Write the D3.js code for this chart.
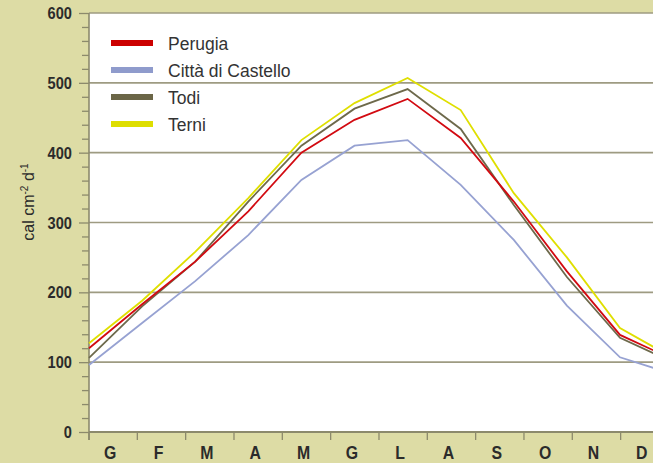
<!DOCTYPE html>
<html>
<head>
<meta charset="utf-8">
<script src="https://cdn.jsdelivr.net/npm/d3@7"></script>
<style>
  body { margin: 0; background: #dddca5; }
  svg { display: block; }
  .cond { font-family: "Liberation Sans", Arial, sans-serif; }
</style>
</head>
<body>
<div class="chart"></div>
<script>
// mesi (iniziali italiane)
var months = ["G", "F", "M", "A", "M", "G", "L", "A", "S", "O", "N", "D"];
var yTicks = [0, 100, 200, 300, 400, 500, 600];

// radiazione globale media giornaliera, cal cm-2 d-1
var perugia = [120, 183, 244, 316, 400, 447, 477, 421, 330, 230, 139, 104];
var citta   = [96, 156, 216, 282, 361, 410, 418, 354, 275, 181, 107, 83];
var todi    = [106, 180, 244, 330, 410, 463, 491, 434, 325, 222, 135, 100];
var terni   = [127, 188, 258, 335, 418, 471, 507, 461, 342, 250, 149, 106];

var seriesNames  = ["Perugia", "Città di Castello", "Todi", "Terni"];
var seriesColors = ["#d20a11", "#97a2d2", "#6d694b", "#dfdf00"];
var swatchColors = ["#cc0000", "#8f9bcc", "#6b6647", "#dede00"];

var W = 653, H = 463;
var margin = {top: 13, left: 89, bottom: 31};
var plotBottom = H - margin.bottom;
var bandW = 48.33, stepW = 53.1;

var svg = d3.select(".chart").append("svg")
  .attr("width", W)
  .attr("height", H);

svg.append("rect")
  .attr("width", W).attr("height", H)
  .attr("fill", "#dddca5");

var y = d3.scaleLinear().domain([0, 600]).range([plotBottom, margin.top]);
var xBand = d3.scaleBand().domain(d3.range(12)).range([margin.left, margin.left + 12 * bandW]);
var xPt = d3.scalePoint().domain(d3.range(12)).range([margin.left, margin.left + 11 * stepW]);

// area bianca
svg.append("rect")
  .attr("x", margin.left).attr("y", margin.top)
  .attr("width", W - margin.left).attr("height", plotBottom - margin.top)
  .attr("fill", "#ffffff");

// griglia
svg.append("g").selectAll("line")
  .data(yTicks.filter(d => d > 0))
  .enter().append("line")
  .attr("x1", margin.left).attr("x2", W)
  .attr("y1", d => y(d)).attr("y2", d => y(d))
  .attr("stroke", "#9e9b82")
  .attr("stroke-width", 1.6);

// asse y con tacche minori
var yAxis = d3.axisLeft(y)
  .tickValues(d3.range(0, 601, 20))
  .tickSize(7)
  .tickFormat("");
var gy = svg.append("g")
  .attr("transform", `translate(${margin.left},0)`)
  .call(yAxis);
gy.select(".domain").remove();
gy.selectAll(".tick line")
  .attr("stroke", "#8c8a6c")
  .attr("stroke-width", 1.3)
  .attr("x2", d => d % 100 === 0 ? -10 : -7);

svg.append("line")
  .attr("x1", margin.left).attr("x2", margin.left)
  .attr("y1", margin.top).attr("y2", plotBottom + 8)
  .attr("stroke", "#8c8a6c").attr("stroke-width", 1.6);

svg.append("g").selectAll("text")
  .data(yTicks)
  .enter().append("text")
  .attr("class", "cond")
  .attr("transform", d => `translate(72,${y(d) + 6}) scale(0.86,1)`)
  .attr("text-anchor", "end")
  .attr("font-size", 17)
  .attr("font-weight", "bold")
  .attr("fill", "#2b2b2b")
  .text(d => d);

// titolo asse y
var yt = svg.append("text")
  .attr("transform", "translate(34,202) rotate(-90)")
  .attr("text-anchor", "middle")
  .attr("font-family", "Liberation Sans, Arial, sans-serif")
  .attr("font-size", 16)
  .attr("fill", "#2b2b2b");
yt.append("tspan").text("cal cm");
yt.append("tspan").attr("dy", -6).attr("font-size", 10).text("-2");
yt.append("tspan").attr("dy", 6).text(" d");
yt.append("tspan").attr("dy", -6).attr("font-size", 10).text("-1");

// asse x
svg.append("line")
  .attr("x1", margin.left).attr("x2", W)
  .attr("y1", plotBottom).attr("y2", plotBottom)
  .attr("stroke", "#8c8a6c").attr("stroke-width", 1.8);

svg.append("g").selectAll("line")
  .data(d3.range(13))
  .enter().append("line")
  .attr("x1", d => margin.left + d * xBand.bandwidth())
  .attr("x2", d => margin.left + d * xBand.bandwidth())
  .attr("y1", plotBottom).attr("y2", plotBottom + 8)
  .attr("stroke", "#8c8a6c").attr("stroke-width", 1.3);

svg.append("g").selectAll("text")
  .data(months)
  .enter().append("text")
  .attr("class", "cond")
  .attr("transform", (d, i) => `translate(${xBand(i) + xBand.bandwidth() / 2 - 3},459) scale(0.88,1)`)
  .attr("text-anchor", "middle")
  .attr("font-size", 18)
  .attr("font-weight", "bold")
  .attr("fill", "#2b2b2b")
  .text(d => d);

// linee
var allSeries = [perugia, citta, todi, terni];
var line = d3.line()
  .x((d, i) => xPt(i))
  .y(d => y(d));

var drawOrder = [3, 1, 2, 0];
svg.append("g").selectAll("path")
  .data(drawOrder)
  .enter().append("path")
  .attr("d", k => line(allSeries[k]))
  .attr("fill", "none")
  .attr("stroke", k => seriesColors[k])
  .attr("stroke-width", 1.8)
  .attr("stroke-linejoin", "miter");

// legenda
var legend = svg.append("g").selectAll("g")
  .data(seriesNames)
  .enter().append("g")
  .attr("transform", (d, i) => `translate(111,${43 + i * 27})`);

legend.append("rect")
  .attr("x", 0).attr("y", -3)
  .attr("width", 42).attr("height", 6)
  .attr("fill", (d, i) => swatchColors[i]);

legend.append("text")
  .attr("class", "cond")
  .attr("x", 57).attr("y", 6.5)
  .attr("font-size", 17.5)
  .attr("fill", "#333333")
  .text(d => d);
</script>
</body>
</html>
